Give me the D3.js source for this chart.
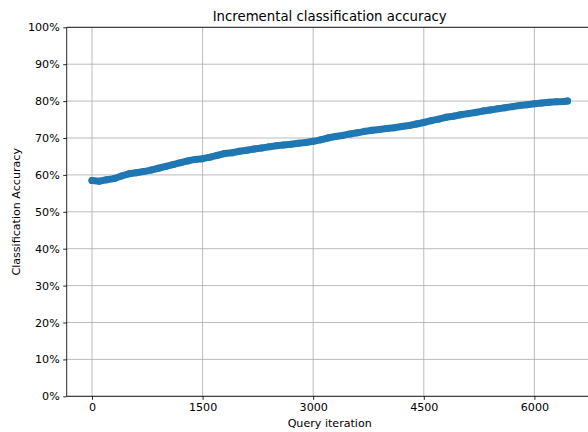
<!DOCTYPE html>
<html>
<head>
<meta charset="utf-8">
<script src="https://cdn.jsdelivr.net/npm/d3@7"></script>
<style>
  html, body { margin: 0; padding: 0; background: #fff; }
  svg { display: block; font-family: "DejaVu Sans", sans-serif; }
</style>
</head>
<body>
<svg id="chart" width="588" height="432"></svg>
<script>
// ---- data ----
const iterations = [0,100,200,300,400,500,600,700,800,900,1000,1100,1200,1300,1400,1500,1600,1700,1800,1900,2000,2100,2200,2300,2400,2500,2600,2700,2800,2900,3000,3100,3200,3300,3400,3500,3600,3700,3800,3900,4000,4100,4200,4300,4400,4500,4600,4700,4800,4900,5000,5100,5200,5300,5400,5500,5600,5700,5800,5900,6000,6100,6200,6300,6400,6450];
const accuracy = [58.5,58.3,58.7,59.0,59.7,60.3,60.6,60.9,61.3,61.8,62.3,62.8,63.3,63.8,64.2,64.4,64.8,65.3,65.8,66.0,66.4,66.7,67.0,67.3,67.6,67.9,68.1,68.3,68.6,68.8,69.1,69.5,70.0,70.4,70.7,71.1,71.4,71.8,72.1,72.3,72.6,72.8,73.1,73.4,73.8,74.2,74.7,75.1,75.6,75.9,76.3,76.6,76.9,77.3,77.6,77.9,78.2,78.5,78.8,79.0,79.3,79.5,79.7,79.8,79.9,80.0];
const xTicks = [0,1500,3000,4500,6000];
const yTicks = [0,10,20,30,40,50,60,70,80,90,100];
const titleText = "Incremental classification accuracy";
const xLabel = "Query iteration";
const yLabel = "Classification Accuracy";

// ---- layout ----
const svg = d3.select("#chart");
const pL = 66.7, pR = 592.7, pT = 27.3, pB = 396.3;
const x = d3.scaleLinear().domain([-343, 6791]).range([pL, pR]);
const y = d3.scaleLinear().domain([0, 100]).range([pB, pT]);
const blue = "#1f77b4";
const fontSize = 11.1;

svg.append("rect").attr("width", 588).attr("height", 432).attr("fill", "#fff");

// grid
const grid = svg.append("g");
grid.selectAll("line.gx").data(xTicks).join("line")
  .attr("x1", d => x(d)).attr("x2", d => x(d))
  .attr("y1", pT).attr("y2", pB)
  .attr("stroke", "#b0b0b0").attr("stroke-width", 0.85);
grid.selectAll("line.gy").data(yTicks).join("line")
  .attr("x1", pL).attr("x2", pR)
  .attr("y1", d => y(d)).attr("y2", d => y(d))
  .attr("stroke", "#b0b0b0").attr("stroke-width", 0.85);

// data
const pts = iterations.map((it, i) => [it, accuracy[i]]);
const line = d3.line().x(d => x(d[0])).y(d => y(d[1]));
svg.append("path").datum(pts)
  .attr("d", line)
  .attr("fill", "none").attr("stroke", blue)
  .attr("stroke-width", 7).attr("stroke-linecap", "round").attr("stroke-linejoin", "round");
svg.append("g").selectAll("circle").data(pts).join("circle")
  .attr("cx", d => x(d[0])).attr("cy", d => y(d[1])).attr("r", 3.5)
  .attr("fill", blue);

// axes
const xAxis = d3.axisBottom(x).tickValues(xTicks).tickSize(3.5).tickPadding(3.5).tickFormat(d3.format("d"));
const gx = svg.append("g").attr("transform", `translate(0,${pB})`).call(xAxis);
const yAxis = d3.axisLeft(y).tickValues(yTicks).tickSize(3.5).tickPadding(3.5).tickFormat(d => d + "%");
const gy = svg.append("g").attr("transform", `translate(${pL},0)`).call(yAxis);
[gx, gy].forEach(g => {
  g.select(".domain").remove();
  g.selectAll(".tick line").attr("stroke", "#000").attr("stroke-width", 0.85);
  g.selectAll(".tick text").attr("fill", "#000").style("font-size", fontSize + "px").style("font-family", "DejaVu Sans");
});

// spines
const spine = (x1, y1, x2, y2) => svg.append("line").attr("x1", x1).attr("y1", y1).attr("x2", x2).attr("y2", y2)
  .attr("stroke", "#000").attr("stroke-width", 0.85);
spine(pL, pB, pR, pB);
spine(pL, pT, pR, pT);
spine(pL, pT, pL, pB);
spine(pR, pT, pR, pB);

// labels
svg.append("text").attr("x", (pL + pR) / 2).attr("y", 21)
  .attr("text-anchor", "middle").style("font-size", "13.3px").text(titleText);
svg.append("text").attr("x", (pL + pR) / 2).attr("y", 427.3)
  .attr("text-anchor", "middle").style("font-size", fontSize + "px").text(xLabel);
svg.append("text").attr("transform", `translate(20,${(pT + pB) / 2}) rotate(-90)`)
  .attr("text-anchor", "middle").style("font-size", fontSize + "px").text(yLabel);
</script>
</body>
</html>
